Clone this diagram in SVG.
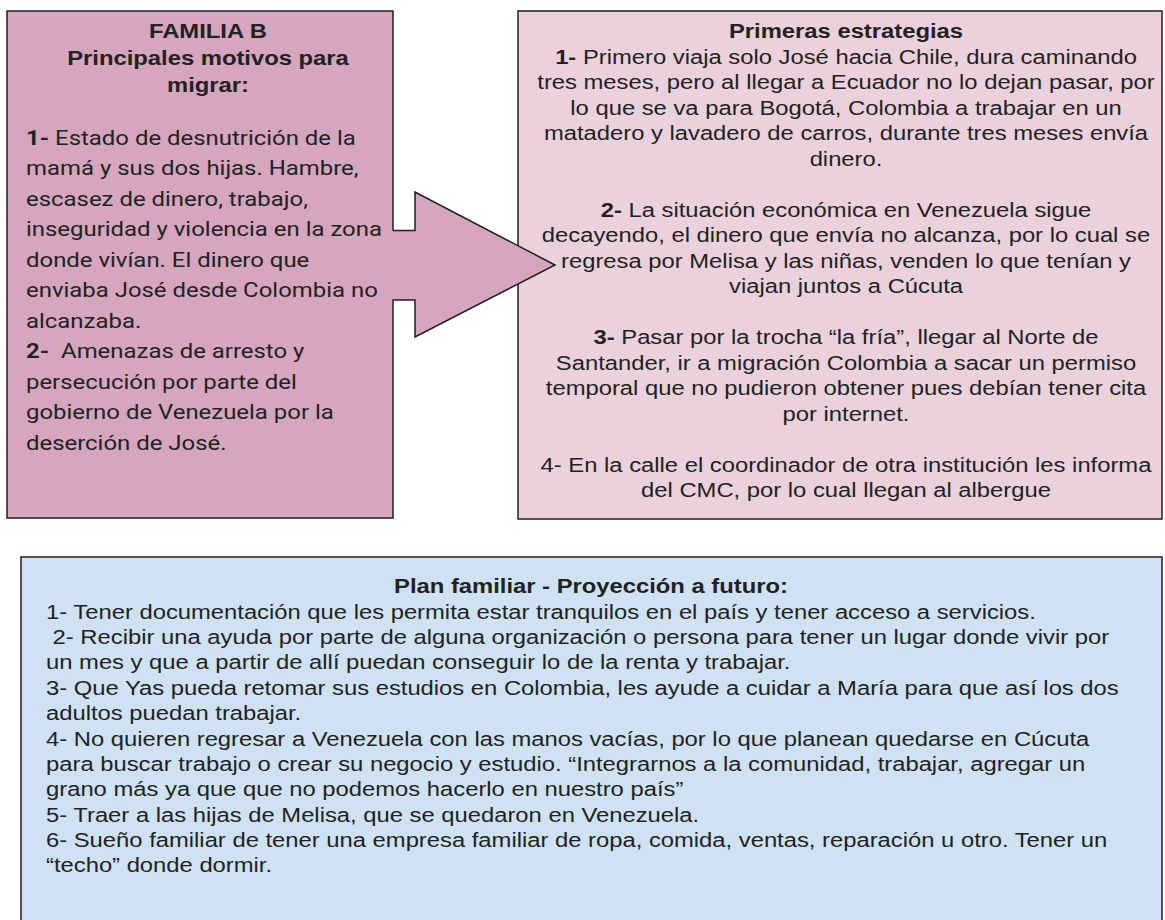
<svg xmlns="http://www.w3.org/2000/svg" width="1165" height="920" viewBox="0 0 1165 920">
<style>
.bx{stroke:#1e1e1e;stroke-width:1.5}
.l{fill:#d5a6bd}
.r{fill:#ead1dc}
.u{fill:#cfe2f3}
.a{font-family:"Liberation Sans",Arial,sans-serif;font-size:20px;fill:#222}
.rb{font-family:Roboto,"Liberation Sans",sans-serif;font-size:21px;fill:#222}
.c{text-anchor:middle}
.b{font-weight:bold}
</style>
<rect width="1165" height="920" fill="#fff"/>
<g id="estrategias">
<rect class="bx r" x="518" y="11" width="644" height="508"/>
<g transform="translate(846 0) scale(1.19 1)" class="a c">
<text x="0" y="38" class="b">Primeras estrategias</text>
<text x="0" y="64"><tspan class="b">1-</tspan> Primero viaja solo José hacia Chile, dura caminando</text>
<text x="0" y="89.5">tres meses, pero al llegar a Ecuador no lo dejan pasar, por</text>
<text x="0" y="115">lo que se va para Bogotá, Colombia a trabajar en un</text>
<text x="0" y="140.5">matadero y lavadero de carros, durante tres meses envía</text>
<text x="0" y="166">dinero.</text>
<text x="0" y="217"><tspan class="b">2-</tspan> La situación económica en Venezuela sigue</text>
<text x="0" y="242.5">decayendo, el dinero que envía no alcanza, por lo cual se</text>
<text x="0" y="268">regresa por Melisa y las niñas, venden lo que tenían y</text>
<text x="0" y="293.5">viajan juntos a Cúcuta</text>
<text x="0" y="344.5"><tspan class="b">3-</tspan> Pasar por la trocha “la fría”, llegar al Norte de</text>
<text x="0" y="370">Santander, ir a migración Colombia a sacar un permiso</text>
<text x="0" y="395.5">temporal que no pudieron obtener pues debían tener cita</text>
<text x="0" y="421">por internet.</text>
<text x="0" y="472">4- En la calle el coordinador de otra institución les informa</text>
<text x="0" y="497.5">del CMC, por lo cual llegan al albergue</text>
</g>
</g>
<g id="familia">
<rect class="bx l" x="7" y="11" width="386" height="507"/>
<g transform="translate(208 0) scale(1.19 1)" class="a c b">
<text x="0" y="38">FAMILIA B</text>
<text x="0" y="65">Principales motivos para</text>
<text x="0" y="92">migrar:</text>
</g>
<g transform="translate(26 0) scale(1.14 1)" class="rb">
<text x="0" y="145"><tspan class="b">1-</tspan> Estado de desnutrición de la</text>
<text x="0" y="175.5">mamá y sus dos hijas. Hambre,</text>
<text x="0" y="206">escasez de dinero, trabajo,</text>
<text x="0" y="236.5">inseguridad y violencia en la zona</text>
<text x="0" y="267">donde vivían. El dinero que</text>
<text x="0" y="297.5">enviaba José desde Colombia no</text>
<text x="0" y="328">alcanzaba.</text>
<text x="0" y="358.5" xml:space="preserve"><tspan class="b">2-</tspan>  Amenazas de arresto y</text>
<text x="0" y="389">persecución por parte del</text>
<text x="0" y="419.5">gobierno de Venezuela por la</text>
<text x="0" y="450">deserción de José.</text>
</g>
</g>
<g id="connectors">
<path d="M391 230.5H415V192L555 265L415 337V300H391Z" fill="#d5a6bd"/>
<path d="M392.7 230.5H415V192L555 265L415 337V300H392.7" fill="none" stroke="#1e1e1e" stroke-width="1.5" stroke-linejoin="miter"/>
</g>
<g id="plan">
<rect class="bx u" x="21" y="557" width="1141" height="380"/>
<text x="591" y="593" class="a c b" transform="translate(591 0) scale(1.19 1) translate(-591 0)">Plan familiar - Proyección a futuro:</text>
<g transform="translate(46 0) scale(1.19 1)" class="a">
<text x="0" y="619">1- Tener documentación que les permita estar tranquilos en el país y tener acceso a servicios.</text>
<text x="0" y="644" xml:space="preserve"> 2- Recibir una ayuda por parte de alguna organización o persona para tener un lugar donde vivir por</text>
<text x="0" y="669">un mes y que a partir de allí puedan conseguir lo de la renta y trabajar.</text>
<text x="0" y="695">3- Que Yas pueda retomar sus estudios en Colombia, les ayude a cuidar a María para que así los dos</text>
<text x="0" y="720">adultos puedan trabajar.</text>
<text x="0" y="746">4- No quieren regresar a Venezuela con las manos vacías, por lo que planean quedarse en Cúcuta</text>
<text x="0" y="771">para buscar trabajo o crear su negocio y estudio. “Integrarnos a la comunidad, trabajar, agregar un</text>
<text x="0" y="796">grano más ya que que no podemos hacerlo en nuestro país”</text>
<text x="0" y="822">5- Traer a las hijas de Melisa, que se quedaron en Venezuela.</text>
<text x="0" y="847">6- Sueño familiar de tener una empresa familiar de ropa, comida, ventas, reparación u otro. Tener un</text>
<text x="0" y="872">“techo” donde dormir.</text>
</g>
</g>
</svg>
